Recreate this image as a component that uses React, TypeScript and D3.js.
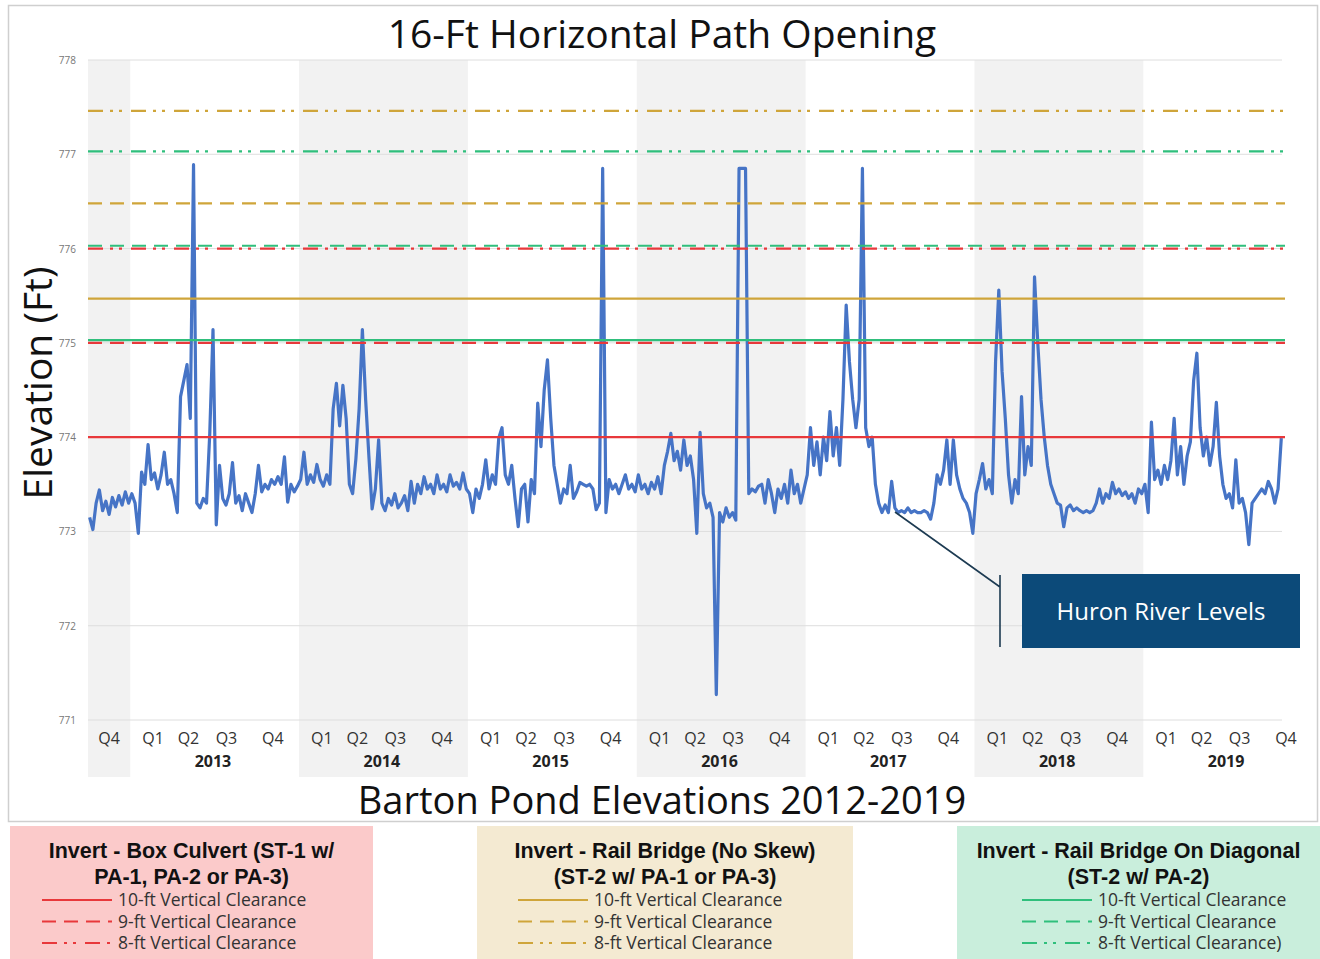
import * as d3 from "d3";

// Huron River weekly levels (ft), one array per year
const q4of2012 = [773.15, 773.02, 773.3, 773.44, 773.22, 773.32, 773.18, 773.36, 773.26, 773.38, 773.28, 773.42, 773.3];
const y2013 = [773.4, 773.3, 772.98, 773.63, 773.5, 773.92, 773.55, 773.62, 773.45, 773.6, 773.84, 773.5, 773.55, 773.4, 773.2, 774.43, 774.6, 774.77, 774.2, 776.89, 773.3, 773.25, 773.35, 773.3, 774.04, 775.14, 773.07, 773.7, 773.35, 773.28, 773.4, 773.73, 773.3, 773.38, 773.22, 773.4, 773.3, 773.2, 773.4, 773.7, 773.42, 773.5, 773.45, 773.55, 773.5, 773.58, 773.5, 773.79, 773.31, 773.5, 773.42, 773.48];
const y2014 = [773.55, 773.84, 773.5, 773.6, 773.52, 773.71, 773.55, 773.48, 773.6, 773.5, 774.3, 774.57, 774.12, 774.55, 774.2, 773.5, 773.4, 773.77, 774.3, 775.14, 774.4, 773.8, 773.24, 773.45, 773.97, 773.3, 773.22, 773.35, 773.28, 773.4, 773.25, 773.3, 773.38, 773.22, 773.53, 773.3, 773.5, 773.4, 773.58, 773.45, 773.5, 773.4, 773.6, 773.45, 773.5, 773.42, 773.6, 773.48, 773.52, 773.45, 773.62, 773.45];
const y2015 = [773.4, 773.2, 773.45, 773.35, 773.5, 773.76, 773.45, 773.6, 773.5, 773.99, 774.1, 773.6, 773.5, 773.7, 773.35, 773.05, 773.45, 773.5, 773.1, 773.55, 773.4, 774.36, 773.9, 774.5, 774.82, 774.2, 773.7, 773.5, 773.3, 773.45, 773.4, 773.7, 773.35, 773.42, 773.52, 773.5, 773.48, 773.5, 773.45, 773.23, 773.3, 776.85, 773.2, 773.55, 773.45, 773.5, 773.4, 773.5, 773.6, 773.45, 773.5, 773.42];
const y2016 = [773.6, 773.45, 773.5, 773.4, 773.52, 773.45, 773.58, 773.4, 773.7, 773.85, 774.04, 773.75, 773.85, 773.65, 773.97, 773.7, 773.8, 773.55, 772.98, 774.05, 773.4, 773.25, 773.3, 773.15, 771.27, 773.2, 773.1, 773.25, 773.15, 773.2, 773.12, 776.85, 776.85, 776.85, 773.4, 773.45, 773.42, 773.48, 773.5, 773.3, 773.55, 773.4, 773.2, 773.45, 773.35, 773.5, 773.3, 773.65, 773.4, 773.5, 773.3, 773.45];
const y2017 = [773.6, 774.1, 773.7, 773.95, 773.6, 774.0, 773.75, 774.27, 773.8, 774.1, 773.7, 774.4, 775.4, 774.8, 774.4, 774.1, 774.4, 776.85, 774.1, 773.9, 774.0, 773.5, 773.3, 773.2, 773.28, 773.2, 773.53, 773.25, 773.2, 773.22, 773.2, 773.25, 773.2, 773.22, 773.2, 773.2, 773.22, 773.2, 773.13, 773.3, 773.6, 773.5, 773.65, 773.97, 773.5, 773.97, 773.6, 773.45, 773.35, 773.3, 773.2, 772.98];
const y2018 = [773.4, 773.55, 773.72, 773.45, 773.55, 773.4, 774.8, 775.56, 774.7, 774.2, 773.6, 773.3, 773.55, 773.4, 774.43, 773.6, 773.9, 773.7, 775.7, 775.0, 774.4, 774.0, 773.7, 773.5, 773.4, 773.3, 773.28, 773.05, 773.25, 773.28, 773.22, 773.25, 773.22, 773.2, 773.22, 773.2, 773.22, 773.3, 773.45, 773.3, 773.4, 773.35, 773.52, 773.4, 773.45, 773.38, 773.42, 773.35, 773.4, 773.3, 773.45, 773.4];
const y2019 = [773.5, 773.2, 774.16, 773.55, 773.65, 773.5, 773.7, 773.55, 773.75, 774.2, 773.6, 773.9, 773.5, 773.8, 773.95, 774.6, 774.89, 774.1, 773.8, 774.0, 773.7, 773.9, 774.37, 773.8, 773.5, 773.35, 773.4, 773.25, 773.76, 773.3, 773.35, 773.2, 772.86, 773.3, 773.35, 773.4, 773.45, 773.4, 773.53, 773.45, 773.3, 773.45, 773.99];

const years = [2013, 2014, 2015, 2016, 2017, 2018, 2019];
const yearValues = [y2013, y2014, y2015, y2016, y2017, y2018, y2019];
const shadedYears = [2014, 2016, 2018];

// invert elevations for each option: 10-ft, 9-ft, 8-ft clearance
const boxCulvert = [774.0, 775.0, 776.0];
const railNoSkew = [775.47, 776.48, 777.46];
const railDiagonal = [775.03, 776.03, 777.03];
const clearanceLabels = ["10-ft Vertical Clearance", "9-ft Vertical Clearance", "8-ft Vertical Clearance"];

const yTicks = [771, 772, 773, 774, 775, 776, 777, 778];
const quarterNames = ["Q1", "Q2", "Q3", "Q4"];
const quarterOffsets = [0.135, 0.345, 0.57, 0.845];

const RED = "#e8383b";
const GOLD = "#cfa53a";
const GREEN = "#2fbf7c";
const BLUE = "#4674c6";
const FONT = "'Open Sans', 'Noto Sans', sans-serif";
const TITLE_FONT = "'Liberation Sans', Arial, sans-serif";
const dashes = [null, "14,8", "15,7,3,6,3,9"];

const W = 1320;
const H = 959;

const x = d3.scaleLinear().domain([2012.75, 2019.8333]).range([88, 1284]);
const y = d3.scaleLinear().domain([771, 778]).range([720, 60]);

const series: [number, number][] = [
  ...q4of2012.map((v, i) => [2012.75 + (i + 0.5) / 52, v] as [number, number]),
  ...yearValues.flatMap((vals, k) => vals.map((v, i) => [years[k] + (i + 0.5) / 52, v] as [number, number])),
];

const line = d3.line<[number, number]>().x((d) => x(d[0])).y((d) => y(d[1]));

const legends = [
  { title: ["Invert - Box Culvert (ST-1 w/", "PA-1, PA-2 or PA-3)"], color: RED, fill: "#fbcaca", x0: 10, x1: 373, lx: 42, labels: clearanceLabels },
  { title: ["Invert - Rail Bridge (No Skew)", "(ST-2 w/ PA-1 or PA-3)"], color: GOLD, fill: "#f4ead2", x0: 477, x1: 853, lx: 518, labels: clearanceLabels },
  { title: ["Invert - Rail Bridge On Diagonal", "(ST-2 w/ PA-2)"], color: GREEN, fill: "#c9eedc", x0: 957, x1: 1320, lx: 1022, labels: [clearanceLabels[0], clearanceLabels[1], "8-ft Vertical Clearance)"] },
];

function Thresholds({ values, color }: { values: number[]; color: string }) {
  return (
    <g>
      {values.map((v, i) => (
        <line key={i} x1={88} x2={1285} y1={y(v)} y2={y(v)} stroke={color} strokeWidth={2.2}
          strokeDasharray={dashes[i] ?? undefined} />
      ))}
    </g>
  );
}

export default function App() {
  const end = 2019.8333;
  return (
    <svg width={W} height={H} style={{ position: "absolute", left: 0, top: 0, background: "#fff" }} fontFamily={FONT}>
      <rect x={8.5} y={5.5} width={1309} height={816} fill="#fff" stroke="#cfcfcf" strokeWidth={1.5} />

      {/* alternating year shading */}
      <rect x={x(2012.75)} y={60} width={x(2013) - x(2012.75)} height={717} fill="#f2f2f2" />
      {shadedYears.map((yr) => (
        <rect key={yr} x={x(yr)} y={60} width={x(yr + 1) - x(yr)} height={717} fill="#f2f2f2" />
      ))}

      {yTicks.map((t) => (
        <g key={t}>
          <line x1={88} x2={1282} y1={y(t)} y2={y(t)} stroke="#dedede" strokeWidth={1} />
          <text x={76} y={y(t) + 4} textAnchor="end" fontSize={10} fill="#777">{t}</text>
        </g>
      ))}

      <path d={line(series) ?? ""} fill="none" stroke={BLUE} strokeWidth={3.2} strokeLinejoin="round" />

      <Thresholds values={railDiagonal} color={GREEN} />
      <Thresholds values={railNoSkew} color={GOLD} />
      <Thresholds values={boxCulvert} color={RED} />

      {/* quarter and year labels */}
      <text x={x(2012.875)} y={744} textAnchor="middle" fontSize={16} fill="#333">Q4</text>
      {years.map((yr) => (
        <g key={yr}>
          {quarterNames.map((q, i) => (
            <text key={q} x={x(yr + quarterOffsets[i])} y={744} textAnchor="middle" fontSize={16} fill="#333">{q}</text>
          ))}
          <text x={x(Math.min(yr + (quarterOffsets[0] + quarterOffsets[3]) / 2, end))} y={767} textAnchor="middle"
            fontSize={16} fontWeight="bold" fill="#222">{yr}</text>
        </g>
      ))}

      <text x={662} y={48} textAnchor="middle" fontSize={39} fill="#111">16-Ft Horizontal Path Opening</text>
      <text x={662} y={814} textAnchor="middle" fontSize={38} fill="#111">Barton Pond Elevations 2012-2019</text>
      <text transform={`translate(52,383) rotate(-90)`} textAnchor="middle" fontSize={39} fill="#111">Elevation (Ft)</text>

      {/* callout */}
      <path d="M895,512 L1000,587 M1000,575 L1000,647" fill="none" stroke="#1d3b52" strokeWidth={1.6} />
      <rect x={1022} y={574} width={278} height={74} fill="#0c4a79" />
      <text x={1161} y={620} textAnchor="middle" fontSize={24} fill="#fff">Huron River Levels</text>

      {/* legend boxes */}
      {legends.map((lg, k) => (
        <g key={k}>
          <rect x={lg.x0} y={826} width={lg.x1 - lg.x0} height={H - 826} fill={lg.fill} />
          {lg.title.map((t, i) => (
            <text key={i} x={(lg.x0 + lg.x1) / 2} y={858 + i * 25.5} textAnchor="middle" fontSize={21.5}
              fontFamily={TITLE_FONT} fontWeight="bold" fill="#111">{t}</text>
          ))}
          {lg.labels.map((lab, i) => (
            <g key={i}>
              <line x1={lg.lx} x2={lg.lx + 70} y1={900 + i * 21.5} y2={900 + i * 21.5} stroke={lg.color}
                strokeWidth={2.2} strokeDasharray={dashes[i] ?? undefined} />
              <text x={lg.lx + 76} y={906 + i * 21.5} fontSize={17.5} fill="#333">{lab}</text>
            </g>
          ))}
        </g>
      ))}
    </svg>
  );
}
